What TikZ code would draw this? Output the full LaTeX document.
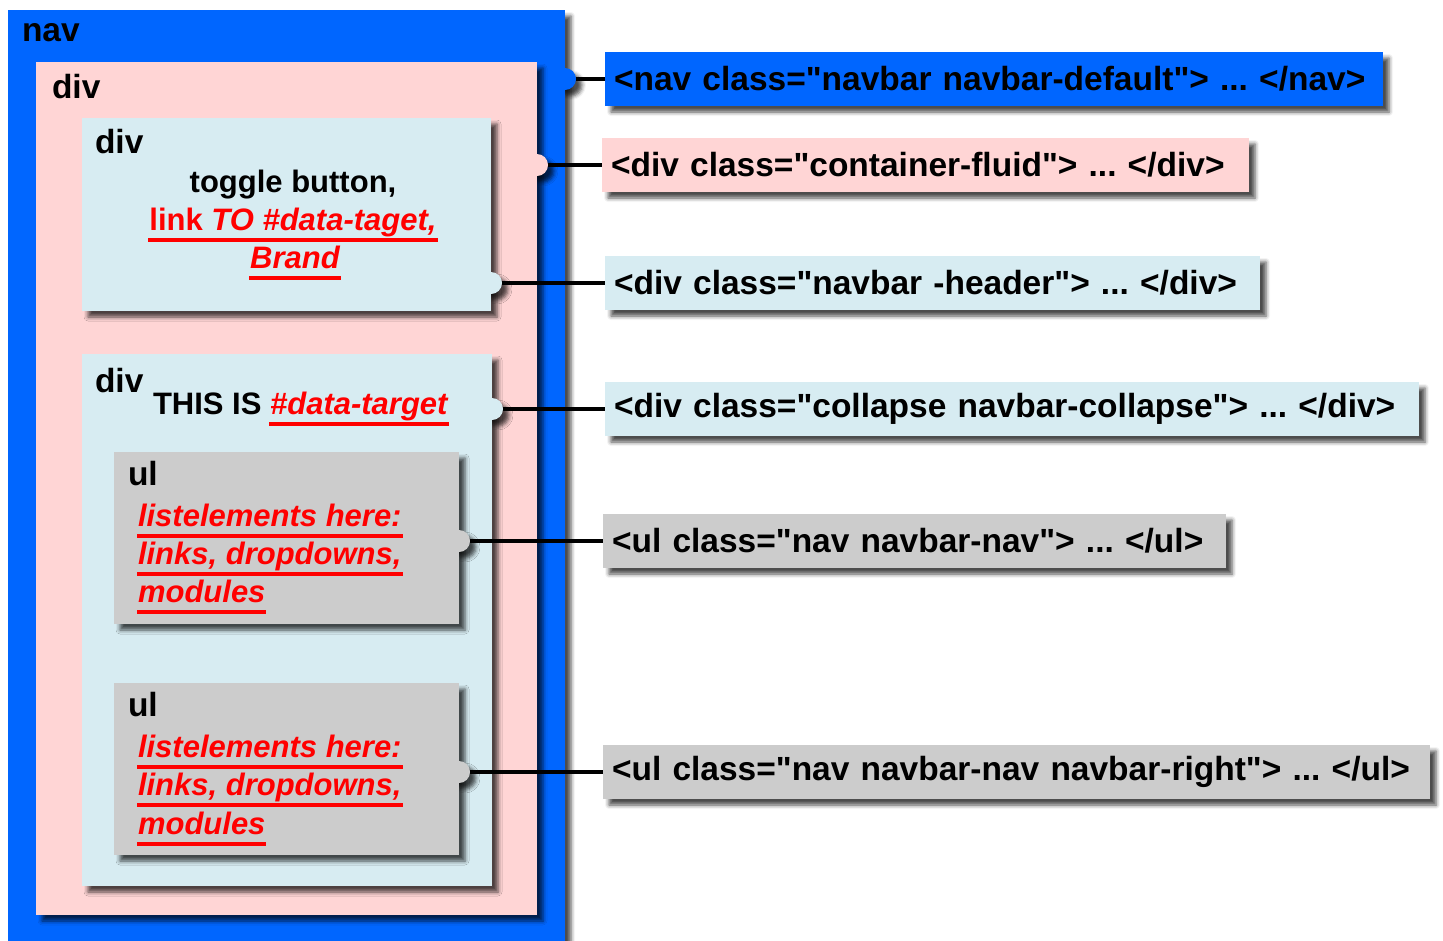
\documentclass[tikz,border=0pt]{standalone}
\usepackage{fontspec}
\setmainfont{Liberation Sans}
\usetikzlibrary{positioning}
\usetikzlibrary{shadows.blur}

\definecolor{navblue}{RGB}{0,102,255}
\definecolor{divpink}{RGB}{255,213,213}
\definecolor{headblue}{RGB}{215,236,242}
\definecolor{ulgray}{RGB}{204,204,204}
\definecolor{linkred}{RGB}{255,0,0}

% red text with a thick red underline
\newcommand{\redul}[1]{{\color{linkred}\setbox0\hbox{#1}%
  \rlap{\hskip-1pt\rule[-11.5pt]{\dimexpr\wd0+2pt\relax}{3.5pt}}\box0}}
\newcommand{\qt}{\textquotedbl{}}
\frenchspacing

\begin{document}
\begin{tikzpicture}[x=1pt,y=-1pt,
    every node/.style={font=\fontsize{31}{38}\selectfont\bfseries, inner sep=0pt, outer sep=0pt},
    big/.style={font=\fontsize{33.5}{40}\selectfont\bfseries},
    shade/.style={blur shadow={shadow xshift=6pt, shadow yshift=-6pt, shadow blur radius=4pt, shadow opacity=70}},
    box/.style={fill=#1, anchor=north west, shade},
    tag/.style={fill=#1, anchor=west, minimum height=54pt, inner xsep=9pt, align=left, big, shade},
    knob/.style={circle, fill=#1, minimum size=22pt, shade},
    link/.style={line width=4pt}]
  \useasboundingbox (0,0) rectangle (1443,940);

  % Tags on the right
  \node[tag=navblue, text width=760pt] (navtag) at (605,79) {<nav class=\qt navbar navbar-default\qt> ... </nav>};
  \node[tag=divpink, text width=629pt] (divtag) at (602,165) {<div class=\qt container-fluid\qt> ... </div>};
  \node[tag=headblue, text width=637pt] (headtag) at (605,283) {<div class=\qt navbar -header\qt> ... </div>};
  \node[tag=headblue, text width=796pt] (coltag) at (605,409) {<div class=\qt collapse navbar-collapse\qt> ... </div>};
  \node[tag=ulgray, text width=605pt] (ultag) at (603,541) {<ul class=\qt nav navbar-nav\qt> ... </ul>};
  \node[tag=ulgray, text width=809pt] (rightag) at (603,772) {<ul class=\qt nav navbar-nav navbar-right\qt> ... </ul>};

  % nav
  \node[box=navblue, minimum width=557pt, minimum height=980pt] (nav) at (8,10) {};
  \begin{scope}
    \clip (nav.east |- navtag.west) ++(0,-30) rectangle ++(40,60);
    \node[knob=navblue] (navknob) at (nav.east |- navtag.west) {};
  \end{scope}
  \node[anchor=base west, big] (navname) at (22,41) {nav};

  % div container
  \node[box=divpink, minimum width=501pt, minimum height=853pt] (div) at (36,62) {};
  \begin{scope}
    \clip (div.east |- divtag.west) ++(0,-30) rectangle ++(40,60);
    \node[knob=divpink] (divknob) at (div.east |- divtag.west) {};
  \end{scope}
  \node[anchor=base west, big] (divname) at (52,98) {div};

  % div header
  \node[box=headblue, minimum width=409pt, minimum height=193pt] (head) at (82,118) {};
  \begin{scope}
    \clip (head.east |- headtag.west) ++(0,-30) rectangle ++(40,60);
    \node[knob=headblue] (headknob) at (head.east |- headtag.west) {};
  \end{scope}
  \node[anchor=base west, big] (headname) at (95,153) {div};
  \node[anchor=base] (headone) at (293,192) {toggle button,};
  \node[anchor=base] (headtwo) at (293,230) {\redul{link \itshape TO \#data-taget,}};
  \node[anchor=base] (headthree) at (295,268) {\redul{\itshape Brand}};

  % div collapse
  \node[box=headblue, minimum width=410pt, minimum height=532pt] (col) at (82,354) {};
  \begin{scope}
    \clip (col.east |- coltag.west) ++(0,-30) rectangle ++(40,60);
    \node[knob=headblue] (colknob) at (col.east |- coltag.west) {};
  \end{scope}
  \node[anchor=base west, big] (colname) at (95,392) {div};
  \node[anchor=base west] (coltext) at (153,414) {THIS IS \redul{\itshape\#data-target}};

  % ul left
  \node[box=ulgray, minimum width=345pt, minimum height=172pt] (ul) at (114,452) {};
  \begin{scope}
    \clip (ul.east |- ultag.west) ++(0,-30) rectangle ++(40,60);
    \node[knob=ulgray] (ulknob) at (ul.east |- ultag.west) {};
  \end{scope}
  \node[anchor=base west, big] (ulname) at (128,485) {ul};
  \node[anchor=base west] (ulone) at (138,526) {\redul{\itshape listelements here:}};
  \node[anchor=base west] (ultwo) at (138,564) {\redul{\itshape links, dropdowns,}};
  \node[anchor=base west] (ulthree) at (138,602) {\redul{\itshape modules}};

  % ul right
  \node[box=ulgray, minimum width=345pt, minimum height=172pt] (ulr) at (114,683) {};
  \begin{scope}
    \clip (ulr.east |- rightag.west) ++(0,-30) rectangle ++(40,60);
    \node[knob=ulgray] (ulrknob) at (ulr.east |- rightag.west) {};
  \end{scope}
  \node[anchor=base west, big] (ulrname) at (128,716) {ul};
  \node[anchor=base west] (ulrone) at (138,757) {\redul{\itshape listelements here:}};
  \node[anchor=base west] (ulrtwo) at (138,795) {\redul{\itshape links, dropdowns,}};
  \node[anchor=base west] (ulrthree) at (138,834) {\redul{\itshape modules}};

  % Connectors
  \draw[link] (navknob.east) -- (navtag.west);
  \draw[link] (divknob.east) -- (divtag.west);
  \draw[link] (headknob.east) -- (headtag.west);
  \draw[link] (colknob.east) -- (coltag.west);
  \draw[link] (ulknob.east) -- (ultag.west);
  \draw[link] (ulrknob.east) -- (rightag.west);
\end{tikzpicture}
\end{document}
